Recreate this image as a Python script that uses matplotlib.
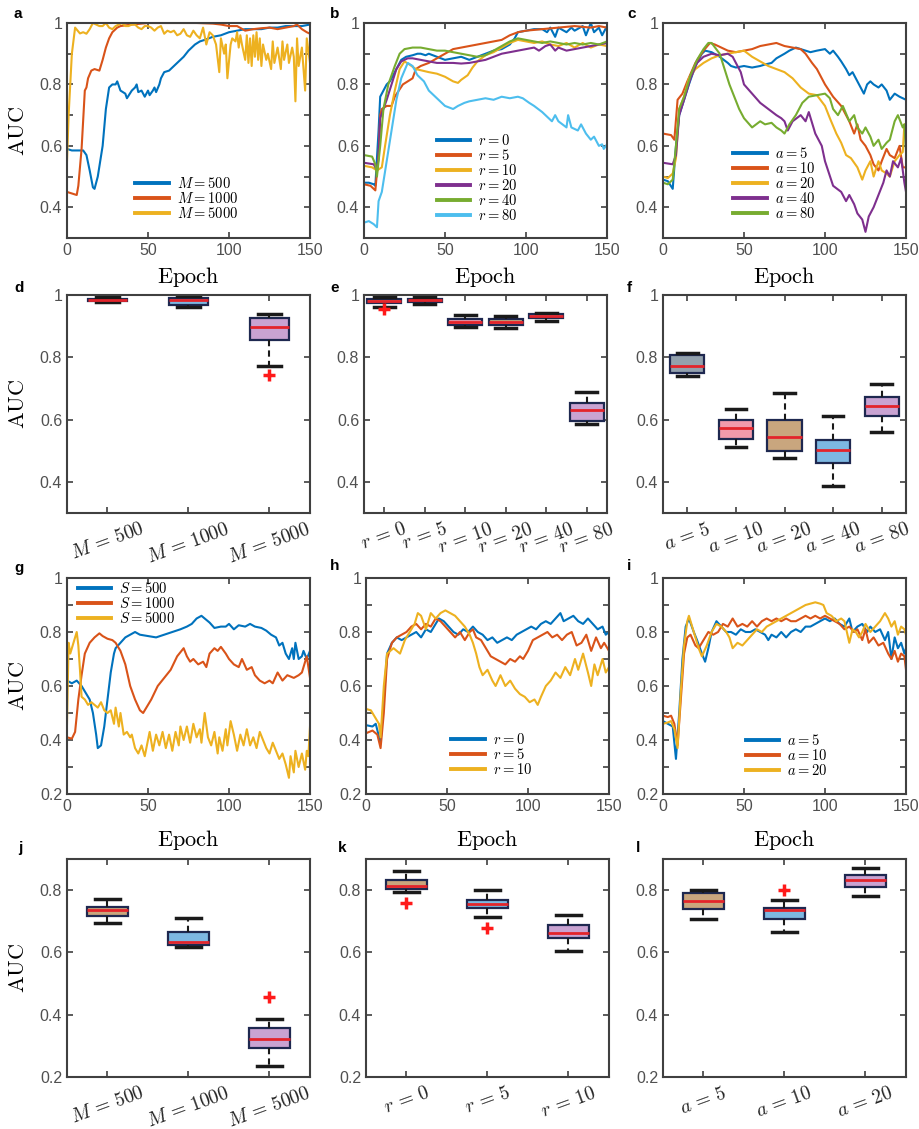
import numpy as np
import matplotlib
matplotlib.use('Agg')
import matplotlib.pyplot as plt

plt.rcParams['font.family'] = ['Liberation Sans', 'DejaVu Sans']
plt.rcParams['mathtext.fontset'] = 'cm'

# ---- line data: (epoch, AUC) pairs ----
a_m500 = [(0,.59),(3,.585),(6,.585),(10,.585),(12,.57),(14,.52),(16,.465),(17,.46),(19,.5),(22,.6),(24,.72),(26,.79),(28,.8),(30,.8),(31,.81),(33,.78),(36,.77),(37,.755),(40,.78),(42,.79),(43,.8),(44,.775),(46,.78),(48,.76),(50,.78),(51,.765),(53,.78),(54,.79),(55,.775),(57,.8),(58,.82),(60,.84),(63,.845),(66,.86),(68,.87),(72,.89),(75,.91),(79,.93),(82,.94),(85,.945),(90,.955),(95,.96),(100,.97),(105,.975),(110,.98),(115,.98),(120,.98),(125,.985),(130,.985),(135,.99),(140,.99),(145,.99),(150,.995)]
a_m1000 = [(0,.45),(3,.445),(6,.44),(7,.47),(9,.59),(11,.78),(12,.79),(13,.82),(15,.845),(17,.85),(20,.845),(22,.88),(24,.92),(26,.95),(28,.97),(31,.985),(33,.99),(40,.995),(50,1.0),(60,1.0),(70,1.0),(80,1.0),(90,.998),(95,.995),(100,.99),(105,.99),(110,.975),(115,.98),(120,.983),(125,.985),(130,.98),(135,.985),(140,.99),(142,.995),(145,.98),(148,.97),(150,.965)]
a_m5000 = [(0,.55),(1,.7),(3,.9),(5,.985),(8,.966),(10,.97),(12,.965),(14,.98),(16,1.0),(18,.995),(20,.99),(22,.99),(24,1.0),(26,.985),(28,.98),(30,.99),(32,.995),(34,1.0),(36,.99),(38,.99),(40,.995),(42,.995),(44,.985),(46,.98),(48,.99),(50,.99),(52,.985),(54,.975),(56,.985),(58,.99),(60,.965),(62,.975),(64,.97),(66,.975),(68,.96),(70,.965),(72,.98),(74,.96),(76,.955),(78,.975),(80,.96),(82,.95),(84,.985),(86,.93),(88,.97),(90,.96),(92,.93),(94,.84),(95,.95),(97,.9),(98,.93),(99,.82),(101,.93),(102,.95),(104,.94),(105,.97),(106,.92),(107,.96),(108,.93),(110,.88),(111,.96),(112,.87),(113,.95),(114,.86),(115,.96),(116,.89),(117,.97),(118,.88),(119,.95),(120,.86),(121,.93),(123,.88),(124,.9),(126,.85),(127,.94),(128,.87),(130,.92),(132,.85),(133,.94),(134,.88),(136,.93),(137,.87),(139,.92),(140,.89),(141,.745),(142,.95),(143,.86),(145,.92),(147,.78),(148,.95),(150,.87)]

b_r0 = [(0,.48),(3,.48),(6,.475),(7,.47),(9,.65),(10,.76),(12,.78),(14,.8),(16,.81),(18,.83),(20,.85),(23,.88),(26,.89),(30,.895),(33,.9),(35,.9),(38,.895),(40,.9),(45,.89),(50,.88),(55,.885),(60,.89),(65,.88),(70,.89),(75,.9),(80,.91),(85,.915),(90,.93),(93,.95),(95,.97),(100,.975),(105,.98),(110,.98),(113,.97),(115,.985),(118,.955),(120,.985),(125,.97),(128,.985),(130,.975),(135,.99),(137,.96),(140,1.0),(142,.97),(145,.985),(147,.96),(150,.99)]
b_r5 = [(0,.475),(4,.47),(7,.455),(9,.57),(10,.7),(11,.72),(14,.73),(17,.73),(19,.76),(24,.8),(27,.81),(30,.82),(32,.85),(35,.86),(40,.87),(45,.885),(50,.9),(55,.915),(60,.92),(65,.925),(70,.93),(75,.935),(80,.94),(85,.945),(90,.96),(95,.97),(100,.975),(110,.98),(120,.985),(130,.99),(140,.985),(145,.99),(150,.985)]
b_r10 = [(0,.535),(5,.53),(8,.52),(11,.53),(13,.6),(16,.7),(19,.78),(22,.85),(25,.875),(28,.865),(32,.85),(36,.845),(40,.84),(45,.835),(50,.825),(55,.81),(58,.805),(60,.815),(64,.83),(67,.855),(70,.875),(75,.895),(80,.905),(85,.92),(90,.935),(95,.945),(100,.94),(105,.935),(110,.94),(115,.93),(120,.925),(125,.935),(130,.92),(135,.935),(140,.92),(145,.93),(150,.925)]
b_r20 = [(0,.545),(6,.54),(8,.52),(9,.56),(10,.69),(12,.72),(14,.75),(17,.8),(20,.85),(23,.875),(27,.885),(30,.885),(35,.88),(40,.875),(45,.87),(50,.87),(55,.87),(60,.868),(65,.87),(70,.875),(75,.88),(80,.89),(85,.9),(90,.905),(95,.91),(100,.915),(105,.92),(108,.91),(112,.925),(115,.93),(118,.91),(120,.92),(125,.91),(130,.915),(135,.92),(140,.925),(145,.93),(150,.935)]
b_r40 = [(0,.57),(5,.565),(7,.54),(8,.5),(10,.6),(12,.72),(15,.8),(19,.86),(22,.9),(25,.915),(30,.92),(35,.92),(40,.915),(45,.91),(50,.91),(55,.905),(60,.9),(65,.895),(70,.89),(75,.895),(80,.91),(85,.925),(90,.94),(95,.95),(100,.945),(105,.94),(110,.935),(115,.94),(120,.935),(125,.93),(130,.935),(135,.93),(140,.935),(145,.93),(150,.94)]
b_r80 = [(0,.35),(3,.355),(6,.345),(8,.335),(9,.42),(11,.45),(14,.55),(17,.65),(20,.75),(23,.82),(27,.87),(30,.86),(33,.83),(37,.81),(40,.78),(43,.765),(46,.75),(50,.73),(55,.72),(58,.73),(62,.74),(65,.745),(70,.75),(75,.755),(80,.75),(85,.76),(90,.755),(95,.76),(98,.755),(102,.74),(105,.73),(110,.71),(112,.7),(116,.68),(118,.7),(120,.68),(125,.66),(126,.7),(128,.66),(132,.65),(134,.67),(137,.64),(140,.62),(142,.63),(145,.6),(147,.605),(148,.59),(150,.605)]

c_a5 = [(0,.49),(3,.485),(6,.46),(8,.6),(10,.7),(13,.75),(16,.8),(20,.86),(24,.9),(26,.91),(30,.905),(35,.89),(40,.87),(42,.86),(45,.855),(50,.86),(55,.855),(60,.86),(63,.865),(67,.87),(70,.885),(75,.9),(78,.91),(82,.92),(85,.915),(88,.91),(91,.905),(95,.91),(100,.915),(103,.9),(105,.91),(108,.89),(110,.875),(113,.85),(115,.83),(117,.84),(120,.81),(122,.79),(124,.77),(126,.8),(128,.81),(130,.8),(133,.79),(135,.8),(138,.78),(140,.75),(143,.77),(146,.76),(150,.75)]
c_a10 = [(0,.64),(5,.635),(7,.62),(9,.75),(12,.77),(15,.81),(20,.87),(25,.91),(29,.935),(32,.93),(36,.92),(40,.91),(45,.905),(50,.91),(55,.915),(60,.925),(65,.93),(70,.935),(75,.925),(80,.92),(85,.915),(88,.9),(92,.87),(95,.85),(98,.82),(100,.8),(105,.76),(110,.73),(113,.7),(115,.68),(118,.64),(120,.67),(122,.62),(125,.6),(128,.57),(130,.54),(133,.52),(135,.55),(138,.59),(140,.57),(143,.56),(146,.6),(148,.53),(150,.53)]
c_a20 = [(0,.5),(3,.495),(6,.51),(8,.56),(10,.72),(13,.76),(16,.82),(20,.85),(25,.87),(30,.885),(35,.895),(40,.9),(45,.905),(50,.91),(55,.89),(60,.875),(65,.86),(70,.85),(75,.84),(80,.82),(85,.79),(90,.77),(95,.765),(100,.73),(103,.69),(107,.64),(110,.61),(113,.57),(116,.56),(120,.53),(123,.49),(125,.52),(128,.55),(130,.5),(133,.55),(135,.52),(138,.51),(140,.5),(143,.55),(146,.57),(148,.58),(149,.67),(150,.62)]
c_a40 = [(0,.545),(6,.54),(8,.57),(10,.7),(13,.75),(17,.82),(21,.87),(25,.89),(30,.9),(35,.895),(40,.9),(43,.89),(45,.87),(48,.84),(50,.8),(55,.77),(60,.74),(65,.72),(70,.7),(73,.69),(75,.68),(77,.65),(80,.68),(85,.7),(88,.68),(90,.71),(94,.64),(98,.6),(100,.55),(105,.47),(110,.45),(113,.42),(115,.44),(118,.41),(120,.38),(123,.36),(125,.32),(127,.37),(130,.4),(133,.44),(136,.48),(138,.52),(140,.5),(142,.55),(145,.53),(147,.56),(149,.48),(150,.45)]
c_a80 = [(0,.48),(3,.475),(6,.49),(8,.6),(10,.72),(13,.76),(17,.83),(21,.88),(25,.915),(28,.935),(30,.935),(35,.9),(38,.85),(41,.8),(44,.76),(47,.72),(50,.69),(55,.66),(60,.68),(63,.67),(67,.675),(70,.66),(73,.65),(75,.64),(78,.67),(82,.7),(86,.74),(90,.76),(95,.765),(100,.77),(103,.755),(105,.72),(108,.7),(111,.73),(115,.68),(118,.7),(120,.66),(123,.64),(125,.66),(128,.63),(130,.6),(133,.62),(135,.59),(138,.61),(140,.62),(143,.68),(145,.7),(148,.66),(149,.67),(150,.58)]

g_s500 = [(0,.62),(3,.61),(6,.62),(9,.6),(12,.57),(14,.55),(16,.5),(18,.42),(19,.37),(21,.38),(23,.45),(25,.55),(27,.65),(29,.72),(30,.74),(33,.76),(36,.78),(39,.79),(42,.8),(45,.79),(50,.785),(55,.78),(60,.79),(65,.8),(70,.81),(74,.82),(77,.83),(80,.85),(83,.86),(85,.85),(88,.835),(91,.815),(95,.82),(98,.82),(100,.83),(103,.81),(106,.825),(110,.82),(113,.83),(116,.82),(120,.815),(123,.805),(126,.79),(129,.78),(131,.75),(133,.76),(135,.72),(137,.7),(139,.74),(140,.7),(141,.76),(143,.7),(145,.71),(146,.73),(148,.7),(150,.73)]
g_s1000 = [(0,.41),(3,.405),(5,.43),(7,.55),(9,.64),(11,.72),(14,.76),(17,.78),(20,.795),(22,.785),(25,.775),(28,.77),(30,.76),(33,.73),(36,.68),(39,.6),(42,.55),(45,.51),(47,.5),(49,.52),(52,.55),(56,.6),(60,.63),(64,.66),(68,.71),(72,.74),(74,.71),(76,.69),(78,.7),(81,.68),(84,.69),(86,.67),(88,.72),(91,.74),(93,.73),(95,.745),(98,.72),(100,.7),(103,.68),(106,.67),(108,.7),(111,.66),(114,.67),(116,.64),(119,.62),(122,.61),(125,.62),(127,.61),(130,.65),(133,.62),(136,.64),(140,.63),(143,.64),(145,.65),(148,.71),(150,.63)]
g_s5000 = [(0,.46),(1,.76),(2,.72),(4,.76),(6,.8),(7,.75),(8,.66),(9,.56),(11,.55),(13,.53),(15,.54),(17,.53),(19,.52),(21,.54),(23,.51),(25,.5),(27,.51),(29,.46),(30,.52),(32,.45),(33,.5),(35,.42),(37,.43),(39,.41),(40,.42),(42,.37),(44,.35),(46,.38),(48,.34),(50,.4),(51,.43),(53,.36),(55,.42),(57,.38),(59,.43),(61,.37),(63,.42),(65,.36),(67,.43),(69,.38),(70,.45),(72,.4),(74,.45),(76,.39),(78,.46),(80,.41),(82,.44),(83,.39),(85,.5),(87,.41),(89,.38),(91,.43),(93,.35),(94,.41),(96,.36),(98,.44),(99,.38),(101,.47),(103,.42),(105,.36),(107,.42),(109,.38),(111,.44),(113,.38),(115,.41),(117,.37),(119,.43),(121,.4),(123,.37),(125,.35),(127,.39),(129,.36),(131,.33),(133,.35),(135,.31),(137,.26),(138,.34),(140,.28),(141,.36),(143,.3),(145,.35),(147,.29),(148,.36),(149,.34),(150,.45)]

h_r0 = [(0,.455),(4,.45),(6,.46),(9,.39),(11,.55),(13,.72),(16,.76),(19,.78),(22,.77),(25,.78),(28,.79),(31,.8),(34,.78),(37,.81),(40,.8),(43,.83),(45,.85),(48,.84),(51,.82),(54,.8),(57,.79),(60,.81),(63,.8),(66,.82),(69,.8),(72,.79),(75,.77),(78,.78),(81,.76),(84,.77),(87,.78),(90,.77),(93,.79),(96,.8),(99,.81),(102,.82),(105,.81),(108,.83),(111,.84),(114,.83),(117,.85),(120,.87),(122,.84),(125,.85),(128,.86),(131,.84),(134,.83),(137,.85),(140,.83),(143,.81),(146,.82),(148,.79),(150,.8)]
h_r5 = [(0,.425),(4,.435),(7,.42),(9,.37),(11,.5),(13,.7),(16,.76),(19,.78),(22,.79),(25,.8),(28,.82),(31,.83),(34,.81),(37,.83),(40,.82),(43,.85),(46,.84),(49,.82),(52,.8),(55,.78),(58,.8),(61,.77),(64,.8),(66,.81),(68,.78),(71,.77),(74,.74),(77,.71),(80,.7),(83,.69),(86,.68),(89,.7),(92,.69),(95,.71),(97,.7),(100,.73),(103,.77),(106,.78),(109,.79),(112,.8),(115,.78),(118,.79),(121,.77),(124,.79),(127,.8),(130,.75),(133,.76),(136,.79),(139,.73),(142,.78),(145,.74),(147,.76),(150,.73)]
h_r10 = [(0,.515),(3,.51),(6,.48),(8,.46),(9,.41),(11,.6),(13,.72),(17,.74),(21,.72),(24,.77),(27,.8),(30,.83),(32,.87),(34,.86),(37,.81),(40,.87),(43,.85),(46,.87),(49,.88),(52,.87),(55,.86),(58,.84),(61,.82),(64,.79),(66,.76),(68,.72),(70,.67),(72,.64),(75,.66),(78,.62),(80,.6),(83,.64),(86,.6),(89,.62),(92,.59),(95,.57),(98,.56),(101,.54),(104,.55),(106,.53),(108,.56),(111,.6),(114,.62),(117,.65),(120,.63),(123,.67),(126,.64),(129,.7),(131,.66),(134,.72),(137,.65),(139,.6),(141,.68),(143,.64),(146,.7),(148,.65),(150,.67)]

i_a5 = [(0,.47),(3,.46),(6,.45),(8,.33),(10,.5),(12,.7),(14,.82),(16,.85),(19,.8),(21,.77),(24,.72),(26,.69),(28,.74),(30,.8),(33,.84),(36,.82),(39,.8),(42,.8),(45,.79),(48,.81),(51,.8),(54,.8),(57,.81),(60,.8),(63,.79),(65,.77),(67,.79),(70,.78),(73,.8),(76,.78),(79,.8),(82,.81),(85,.8),(88,.82),(91,.82),(94,.83),(97,.84),(100,.85),(103,.84),(106,.85),(109,.83),(112,.82),(115,.85),(117,.8),(120,.82),(123,.83),(126,.8),(128,.82),(131,.8),(134,.81),(137,.77),(139,.8),(141,.7),(143,.78),(145,.74),(147,.76),(149,.72),(150,.74)]
i_a10 = [(0,.49),(3,.485),(5,.49),(7,.46),(9,.38),(11,.55),(13,.72),(15,.78),(17,.79),(20,.75),(22,.74),(25,.77),(28,.8),(31,.79),(34,.8),(37,.83),(40,.82),(43,.85),(46,.82),(49,.83),(52,.82),(55,.84),(58,.82),(61,.84),(64,.85),(67,.84),(70,.85),(73,.84),(76,.85),(79,.84),(82,.84),(85,.85),(88,.86),(91,.85),(94,.86),(97,.85),(100,.86),(103,.85),(106,.84),(109,.83),(112,.81),(115,.82),(118,.8),(120,.81),(123,.77),(125,.81),(127,.76),(130,.78),(133,.75),(136,.76),(139,.72),(141,.7),(143,.73),(145,.69),(147,.72),(149,.71),(150,.66)]
i_a20 = [(0,.46),(3,.465),(5,.47),(7,.44),(9,.37),(11,.58),(13,.75),(15,.84),(16,.86),(19,.8),(22,.74),(24,.71),(27,.75),(30,.8),(33,.83),(36,.82),(39,.8),(41,.78),(43,.74),(46,.76),(49,.75),(52,.77),(55,.79),(58,.81),(61,.8),(64,.82),(67,.83),(70,.84),(73,.85),(76,.86),(79,.87),(82,.88),(85,.89),(88,.9),(91,.905),(94,.91),(97,.905),(99,.9),(101,.87),(104,.86),(107,.84),(110,.85),(112,.84),(115,.76),(117,.81),(119,.8),(121,.78),(123,.8),(125,.83),(128,.8),(131,.82),(134,.84),(137,.87),(139,.85),(141,.82),(143,.84),(145,.79),(147,.82),(149,.81),(150,.79)]

# ---- box plot summaries: q1, median, q3, lower whisker, upper whisker, outliers ----
d_labels = [r'$M\,=\,500$', r'$M\,=\,1000$', r'$M\,=\,5000$']
d_q1 = [0.981, 0.969, 0.854]
d_med = [0.984, 0.985, 0.898]
d_q3 = [0.988, 0.989, 0.926]
d_lo = [0.978, 0.96, 0.772]
d_hi = [0.994, 0.996, 0.938]
d_out = [[], [], [0.743]]

e_labels = [r'$r\,=\,0$', r'$r\,=\,5$', r'$r\,=\,10$', r'$r\,=\,20$', r'$r\,=\,40$', r'$r\,=\,80$']
e_q1 = [0.973, 0.978, 0.905, 0.904, 0.927, 0.597]
e_med = [0.982, 0.983, 0.914, 0.914, 0.931, 0.63]
e_q3 = [0.988, 0.987, 0.922, 0.924, 0.939, 0.654]
e_lo = [0.96, 0.972, 0.898, 0.893, 0.916, 0.587]
e_hi = [0.994, 0.994, 0.935, 0.932, 0.943, 0.689]
e_out = [[0.955], [], [], [], [], []]

f_labels = [r'$a\,=\,5$', r'$a\,=\,10$', r'$a\,=\,20$', r'$a\,=\,40$', r'$a\,=\,80$']
f_q1 = [0.75, 0.539, 0.498, 0.462, 0.61]
f_med = [0.773, 0.573, 0.545, 0.501, 0.643]
f_q3 = [0.806, 0.599, 0.6, 0.535, 0.672]
f_lo = [0.74, 0.513, 0.478, 0.388, 0.561]
f_hi = [0.815, 0.633, 0.686, 0.612, 0.715]
f_out = [[], [], [], [], []]

j_labels = [r'$M\,=\,500$', r'$M\,=\,1000$', r'$M\,=\,5000$']
j_q1 = [0.718, 0.625, 0.292]
j_med = [0.735, 0.632, 0.323]
j_q3 = [0.747, 0.665, 0.358]
j_lo = [0.696, 0.616, 0.234]
j_hi = [0.773, 0.712, 0.386]
j_out = [[], [], [0.456]]

k_labels = [r'$r\,=\,0$', r'$r\,=\,5$', r'$r\,=\,10$']
k_q1 = [0.803, 0.743, 0.645]
k_med = [0.812, 0.754, 0.662]
k_q3 = [0.831, 0.769, 0.687]
k_lo = [0.793, 0.714, 0.603]
k_hi = [0.86, 0.802, 0.719]
k_out = [[0.759], [0.679], []]

l_labels = [r'$a\,=\,5$', r'$a\,=\,10$', r'$a\,=\,20$']
l_q1 = [0.74, 0.707, 0.811]
l_med = [0.765, 0.735, 0.833]
l_q3 = [0.791, 0.743, 0.85]
l_lo = [0.706, 0.664, 0.78]
l_hi = [0.802, 0.767, 0.871]
l_out = [[], [0.802], []]

COLORS = ['#0072BD', '#D95319', '#EDB120', '#7E2F8E', '#77AC30', '#4DBEEE']
GRAY, PINK, TAN, BLUE, LAV = '#93a1ad', '#f29aab', '#c9a67e', '#7db8e2', '#c9a3d2'
AXC = '#404040'
TXC = '#505050'

fig = plt.figure(figsize=(9.2, 11.29), dpi=100)


def pos(left, top, w=243, h=216):
    return [left / 920, 1 - (top + h) / 1129, w / 920, h / 1129]


def frame(ax, ylo, yhi, yticks, yminor=None):
    for s in ax.spines.values():
        s.set_color(AXC)
        s.set_linewidth(1.5)
    ax.tick_params(which='both', direction='in', top=True, right=True,
                   color=AXC, width=1.2, labelsize=11.5, labelcolor=TXC)
    ax.tick_params(which='major', length=4)
    ax.tick_params(which='minor', length=4)
    ax.set_ylim(ylo, yhi)
    ax.set_yticks(yticks)
    ax.set_yticklabels([f'{t:g}' for t in yticks])
    if yminor is not None:
        ax.set_yticks(yminor, minor=True)


def line_panel(ax, series, labels, ylo, yticks, yminor, leg_loc, leg_xy, xpad):
    for k, s in enumerate(series):
        arr = np.array(s).T
        ax.plot(arr[0], arr[1], color=COLORS[k], lw=1.5, label=labels[k])
    frame(ax, ylo, 1.0, yticks, yminor)
    ax.set_xlim(0, 150)
    ax.set_xticks([0, 50, 100, 150])
    ax.set_xlabel(r'$\mathrm{Epoch}$', fontsize=16, labelpad=xpad)
    leg = ax.legend(loc=leg_loc, bbox_to_anchor=leg_xy, frameon=False, fontsize=10.5,
                    handlelength=2.3, handletextpad=0.55, labelspacing=0.0,
                    borderpad=0, borderaxespad=0)
    for ln in leg.get_lines():
        ln.set_linewidth(2.8)


def box_panel(ax, labels, q1, med, q3, lo, hi, out, colors, width, ylo, yhi, yticks):
    stats = []
    for n in range(len(labels)):
        stats.append(dict(q1=q1[n], med=med[n], q3=q3[n], whislo=lo[n],
                          whishi=hi[n], fliers=out[n]))
    res = ax.bxp(stats, positions=range(1, len(labels) + 1), widths=width,
                 capwidths=width * 0.6, patch_artist=True,
                 boxprops=dict(edgecolor='#1e2850', linewidth=1.6),
                 medianprops=dict(color='#e3242b', linewidth=2),
                 whiskerprops=dict(color='#1a1a1a', linewidth=1.5, linestyle=(0, (3, 2))),
                 capprops=dict(color='#1a1a1a', linewidth=2.5),
                 flierprops=dict(marker='+', markeredgecolor='#ff1a1a',
                                 markersize=8, markeredgewidth=2.5))
    for patch, c in zip(res['boxes'], colors):
        patch.set_facecolor(c)
    frame(ax, ylo, yhi, yticks)
    ax.set_xlim(0.5, len(labels) + 0.5)
    ax.set_xticks(range(1, len(labels) + 1))
    ax.set_xticklabels(labels, rotation=20, fontsize=14, color='#222222')
    ax.tick_params(axis='x', which='major', pad=5)


cols = [67, 364, 663]
yt1 = [0.4, 0.6, 0.8, 1.0]
ym1 = [0.3, 0.5, 0.7, 0.9]
yt3 = [0.2, 0.4, 0.6, 0.8, 1.0]

# row 1
ax = fig.add_axes(pos(cols[0], 23, h=215))
line_panel(ax, [a_m500, a_m1000, a_m5000], ['$M = 500$', '$M = 1000$', '$M = 5000$'],
           0.3, yt1, ym1, 'lower left', (0.28, 0.08), 5)
ax.set_ylabel(r'$\mathrm{AUC}$', fontsize=16, labelpad=8)
ax = fig.add_axes(pos(cols[1], 23, h=215))
line_panel(ax, [b_r0, b_r5, b_r10, b_r20, b_r40, b_r80],
           ['$r = 0$', '$r = 5$', '$r = 10$', '$r = 20$', '$r = 40$', '$r = 80$'],
           0.3, yt1, ym1, 'lower left', (0.30, 0.07), 5)
ax = fig.add_axes(pos(cols[2], 23, h=215))
line_panel(ax, [c_a5, c_a10, c_a20, c_a40, c_a80],
           ['$a = 5$', '$a = 10$', '$a = 20$', '$a = 40$', '$a = 80$'],
           0.3, yt1, ym1, 'lower left', (0.29, 0.08), 5)

# row 2
ax = fig.add_axes(pos(cols[0], 295, h=218))
box_panel(ax, d_labels, d_q1, d_med, d_q3, d_lo, d_hi, d_out, [TAN, BLUE, LAV], 0.47, 0.3, 1.0, yt1)
ax.set_ylabel(r'$\mathrm{AUC}$', fontsize=16, labelpad=8)
ax = fig.add_axes(pos(cols[1], 295, h=218))
box_panel(ax, e_labels, e_q1, e_med, e_q3, e_lo, e_hi, e_out,
          [TAN, GRAY, PINK, TAN, BLUE, LAV], 0.85, 0.3, 1.0, yt1)
ax = fig.add_axes(pos(cols[2], 295, h=218))
box_panel(ax, f_labels, f_q1, f_med, f_q3, f_lo, f_hi, f_out,
          [GRAY, PINK, TAN, BLUE, LAV], 0.7, 0.3, 1.0, yt1)

# row 3
ax = fig.add_axes(pos(cols[0], 578))
line_panel(ax, [g_s500, g_s1000, g_s5000], ['$S = 500$', '$S = 1000$', '$S = 5000$'],
           0.2, yt3, ym1, 'upper left', (0.045, 0.985), 10)
ax.set_ylabel(r'$\mathrm{AUC}$', fontsize=16, labelpad=8)
ax = fig.add_axes(pos(cols[1] + 2, 578))
line_panel(ax, [h_r0, h_r5, h_r10], ['$r = 0$', '$r = 5$', '$r = 10$'],
           0.2, yt3, ym1, 'lower left', (0.35, 0.08), 10)
ax = fig.add_axes(pos(cols[2], 578))
line_panel(ax, [i_a5, i_a10, i_a20], ['$a = 5$', '$a = 10$', '$a = 20$'],
           0.2, yt3, ym1, 'lower left', (0.34, 0.075), 10)

# row 4
yt4 = [0.2, 0.4, 0.6, 0.8]
ax = fig.add_axes(pos(cols[0], 859, h=218))
box_panel(ax, j_labels, j_q1, j_med, j_q3, j_lo, j_hi, j_out, [TAN, BLUE, LAV], 0.5, 0.2, 0.9, yt4)
ax.set_ylabel(r'$\mathrm{AUC}$', fontsize=16, labelpad=8)
ax = fig.add_axes(pos(cols[1] + 2, 859, h=218))
box_panel(ax, k_labels, k_q1, k_med, k_q3, k_lo, k_hi, k_out, [TAN, BLUE, LAV], 0.5, 0.2, 0.9, yt4)
ax = fig.add_axes(pos(cols[2], 859, h=218))
box_panel(ax, l_labels, l_q1, l_med, l_q3, l_lo, l_hi, l_out, [TAN, BLUE, LAV], 0.5, 0.2, 0.9, yt4)

# panel letters
letters = [('a', 14, 14), ('b', 330, 14), ('c', 627, 14),
           ('d', 14, 288), ('e', 330, 288), ('f', 627, 288),
           ('g', 14, 568), ('h', 330, 566), ('i', 627, 566),
           ('j', 18, 848), ('k', 338, 848), ('l', 636, 848)]
for t, x, y in letters:
    fig.text(x / 920, 1 - y / 1129, t, fontsize=11, fontweight='bold',
             ha='left', va='center', family=['Liberation Sans', 'DejaVu Sans'])

fig.savefig('out.png', dpi=100)
